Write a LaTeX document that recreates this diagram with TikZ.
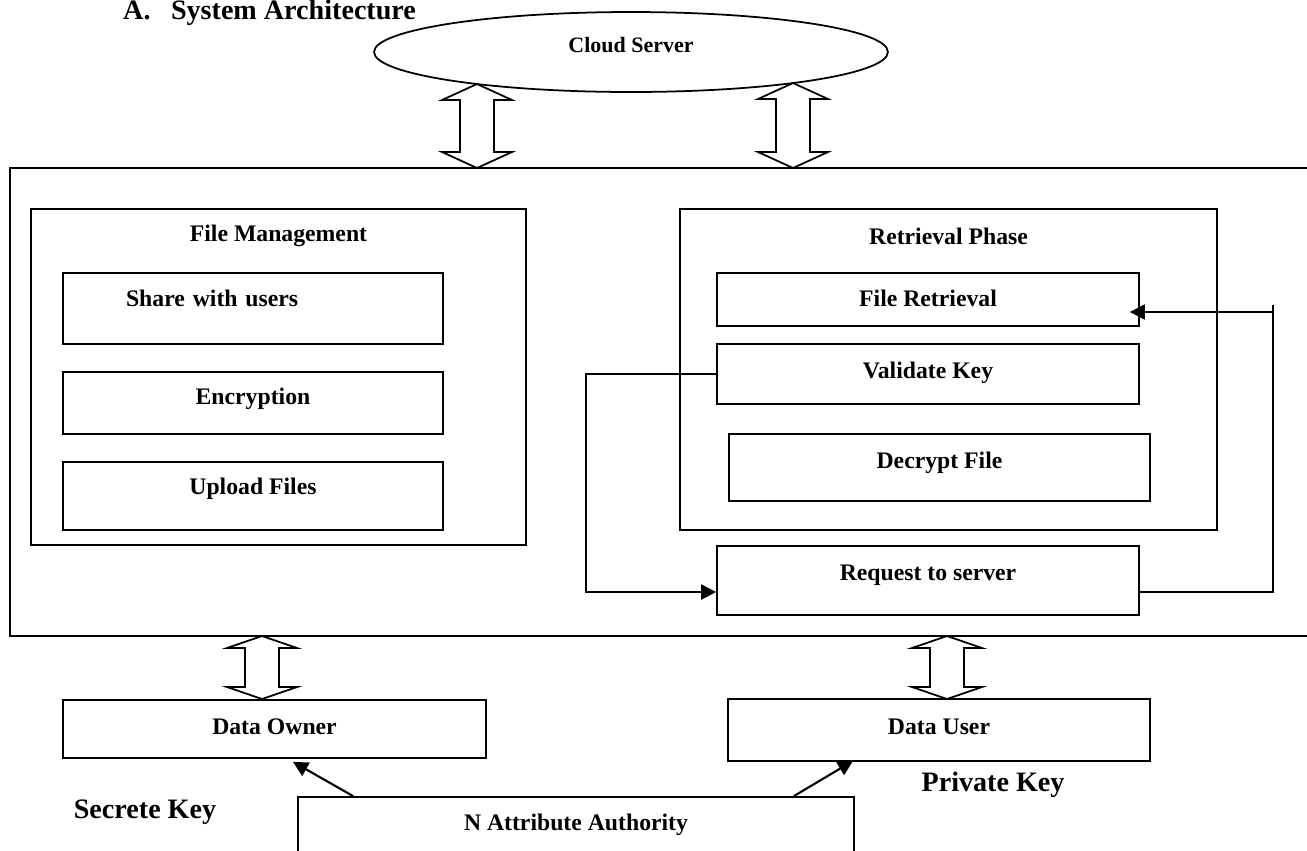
\documentclass[tikz,border=0pt]{standalone}
\usepackage{fontspec}
\setmainfont{Liberation Serif}
\usetikzlibrary{shapes.geometric,arrows.meta,calc}

% hollow up-down arrow: x, top tip, bottom tip, head length
\newcommand{\updown}[4]{%
  \draw[fatarrow] (#1,#2) -- (#1+35,#2+#4) -- (#1+17,#2+#4) -- (#1+17,#3-#4) -- (#1+35,#3-#4)
    -- (#1,#3) -- (#1-35,#3-#4) -- (#1-17,#3-#4) -- (#1-17,#2+#4) -- (#1-35,#2+#4) -- cycle;}

\begin{document}
\begin{tikzpicture}[x=0.02cm, y=-0.02cm,
  box/.style={rectangle, draw=linecol, line width=1pt, inner sep=0pt,
    font=\bfseries\fontsize{13.5pt}{16pt}\selectfont, text height=0.333cm, text depth=0.1cm},
  group/.style={box, label={[anchor=center, yshift=-0.56cm, font=\bfseries\fontsize{13.5pt}{16pt}\selectfont]north:#1}},
  keytext/.style={font=\bfseries\fontsize{16pt}{19pt}\selectfont},
  wire/.style={draw=linecol, line width=1.2pt},
  flow/.style={wire, -{Triangle[length=0.3cm, width=0.3cm]}},
  fatarrow/.style={draw=linecol, line width=1pt, fill=white}]
%Define all colors here.
\definecolor{linecol}{RGB}{0,0,0}

\useasboundingbox (0,0) rectangle (1307,850);
\clip (0,0) rectangle (1307,850);

\node[keytext, anchor=base west] (head) at (117,19.5) {A.\hspace{0.41cm}System Architecture};

\node[ellipse, draw=linecol, line width=1pt, minimum width=10.28cm, minimum height=1.6cm, inner sep=0pt,
  font=\bfseries\fontsize{12.5pt}{15pt}\selectfont, text height=0.309cm, text depth=0.3cm] (cloud) at (631,52) {Cloud Server};

\node[box, minimum width=26.2cm, minimum height=9.36cm] (sys) at (665,402) {};

% file management side
\node[group=File Management, minimum width=9.9cm, minimum height=6.72cm] (fm) at (278.5,377) {};
\node[box, minimum width=7.6cm, minimum height=1.42cm, text width=5.08cm, inner xsep=1.26cm, align=left, text depth=0.4cm] (share) at (253,308.5) {Share with users};
\node[box, minimum width=7.6cm, minimum height=1.24cm, text depth=0.26cm] (enc) at (253,403) {Encryption};
\node[box, minimum width=7.6cm, minimum height=1.36cm, text depth=0.38cm] (upload) at (253,496) {Upload Files};

% retrieval side
\node[group=Retrieval Phase, minimum width=10.74cm, minimum height=6.42cm] (rp) at (948.5,369.5) {};
\node[box, minimum width=8.44cm, minimum height=1.06cm, text depth=0.06cm] (retr) at (928,299.5) {File Retrieval};
\node[box, minimum width=8.44cm, minimum height=1.2cm, text depth=0.14cm] (valid) at (928,374) {Validate Key};
\node[box, minimum width=8.42cm, minimum height=1.34cm, text depth=0.28cm] (decrypt) at (939.5,467.5) {Decrypt File};
\node[box, minimum width=8.44cm, minimum height=1.38cm, text depth=0.32cm] (req) at (928,580.5) {Request to server};

% users and authority
\node[box, minimum width=8.46cm, minimum height=1.16cm] (owner) at (274.5,729) {Data Owner};
\node[box, minimum width=8.44cm, minimum height=1.24cm, text depth=0.14cm] (user) at (939,730) {Data User};
\node[box, minimum width=11.12cm, minimum height=1.26cm, text depth=0.24cm] (auth) at (576,828.5) {N Attribute Authority};

\node[keytext] (skey) at (145,812) {Secrete Key};
\node[keytext] (pkey) at (993,785) {Private Key};

\updown{477}{84}{168}{16}
\updown{793}{83}{168}{16}
\updown{262}{636}{699}{12}
\updown{947}{636}{699}{12}

\coordinate (turn) at (1273,305);
\draw[flow] (valid.west) -- ++(-130,0) |- ($(req.west)+(0,11.5)$);
\draw[wire] ($(req.east)+(0,11.5)$) -| (turn);
\draw[flow] ($(turn |- retr.east)+(0,12.5)$) -- ($(retr.east)+(-10,12.5)$);

\draw[flow] ($(auth.north west)+(56,0)$) -- ($(owner.south)+(18.5,3)$);
\draw[flow] ($(auth.north east)+(-61,0)$) -- ($(user.south)+(-86,-1)$);
\end{tikzpicture}
\end{document}
